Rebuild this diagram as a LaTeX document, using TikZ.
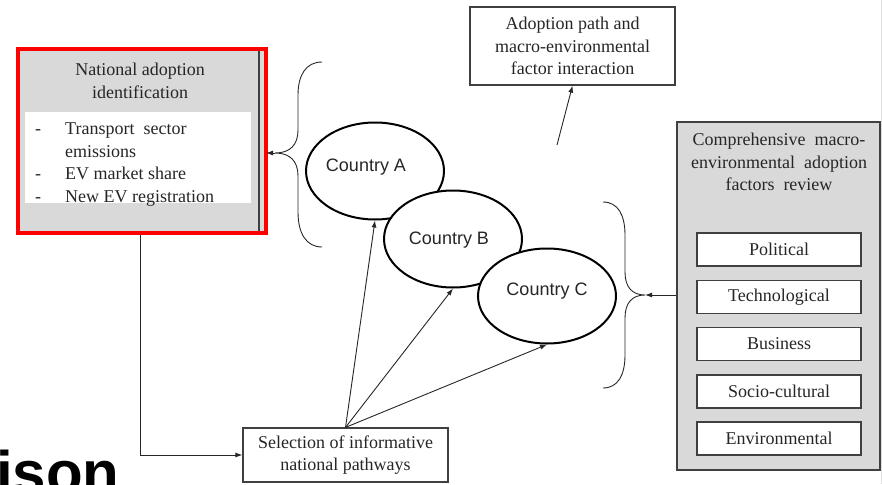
\documentclass[tikz,border=0pt]{standalone}
\usepackage{fontspec}
\setmainfont{Liberation Serif}
\newfontfamily\arialf{Liberation Sans}
\usetikzlibrary{arrows.meta,shapes.geometric}
\definecolor{boxgray}{HTML}{D9D9D9}
\definecolor{edgec}{HTML}{404040}
\definecolor{txtc}{HTML}{262626}
\begin{document}
\begin{tikzpicture}[x=1pt,y=-1pt,
  tx/.style={font=\fontsize{18}{22.5}\selectfont, align=center, inner sep=0, text=txtc},
  lt/.style={font=\fontsize{18}{22.5}\selectfont, anchor=base west, inner sep=0, text=txtc},
  plainbox/.style={draw=edgec, line width=1.2pt, fill=white, inner sep=0, font=\fontsize{18}{22.5}\selectfont, align=center, text=txtc},
  country/.style={ellipse, draw=black, line width=2pt, fill=white, inner sep=0, minimum width=138, minimum height=97},
  ctext/.style={font=\arialf\fontsize{18}{22}\selectfont, text=txtc},
  arr/.style={-{Latex[length=7pt,width=5pt]}, line width=0.9pt, draw=txtc},
  bracec/.style={line width=0.9pt, draw=txtc}
]
\useasboundingbox (0,0) rectangle (882,484);
\clip (0,0) rectangle (882,484);

% --- left red-framed box
\fill[boxgray] (20,50) rectangle (264,232);
\draw[edgec, line width=1.5pt] (259,50) -- (259,232);
\fill[white] (25,112) rectangle (251,203);
\node[tx] (redtitle) at (140,81) {National adoption\\identification};
\node[lt] (d1) at (35,134) {-};
\node[lt] (t1) at (65,134) {Transport\ \ sector};
\node[lt] (t1b) at (65,157) {emissions};
\node[lt] (d2) at (35,179) {-};
\node[lt] (t2) at (65,179) {EV market share};
\node[lt] (d3) at (35,202) {-};
\node[lt] (t3) at (65,202) {New EV registration};
\node[draw=red, line width=4pt, minimum width=248, minimum height=184, inner sep=0] (red) at (142,141) {};

% --- adoption path box
\node[plainbox, minimum width=205, minimum height=78] (adopt) at (572.5,46)
  {Adoption path and\\macro-environmental\\factor interaction};

% --- selection box
\node[plainbox, minimum width=205, minimum height=54] (sel) at (345.5,455)
  {Selection of informative\\national pathways};

% --- right review box
\node[draw=edgec, fill=boxgray, line width=1.2pt, minimum width=203, minimum height=348, inner sep=0] (review) at (778.5,296) {};
\node[tx] (revtitle) at (779,162) {Comprehensive\ \ macro-\\environmental\ \ adoption\\factors\ \ review};
\node[plainbox, minimum width=164, minimum height=33] (pol) at (779,249.5) {Political};
\node[plainbox, minimum width=164, minimum height=33] (tec) at (779,297) {Technological};
\node[plainbox, minimum width=164, minimum height=33] (bus) at (779,344) {Business};
\node[plainbox, minimum width=164, minimum height=33] (soc) at (779,391.5) {Socio-cultural};
\node[plainbox, minimum width=164, minimum height=33] (env) at (779,438.5) {Environmental};

% --- countries
\node[country, label={[ctext, xshift=-9pt, yshift=4pt]center:Country A}] (A) at (375,171) {};
\node[country, label={[ctext, xshift=-4pt, yshift=-1pt]center:Country B}] (B) at (453,239) {};
\node[country, minimum height=95, label={[ctext, xshift=0pt, yshift=5pt]center:Country C}] (C) at (547,296) {};

% --- braces
\draw[bracec] (322,62) .. controls (306,62) and (298,75) .. (298,95) -- (298,130)
  .. controls (298,145) and (290,153) .. (275,153)
  .. controls (290,153) and (298,161) .. (298,176) -- (298,212)
  .. controls (298,233) and (306,247) .. (322,247);
\coordinate (lb) at (275,153);
\draw[bracec] (603,202) .. controls (618,202) and (625,215) .. (625,235) -- (625,272)
  .. controls (625,287) and (632,295) .. (645,295)
  .. controls (632,295) and (625,303) .. (625,318) -- (625,355)
  .. controls (625,375) and (618,388) .. (603,388);
\coordinate (rb) at (645,295);

% --- connectors
\draw[arr, shorten >=-2pt] (lb) -- (red.east |- lb);
\draw[arr] (review.west |- rb) -- (rb);
\coordinate (adf) at (557,145);
\draw[arr] (adf) -- (adopt.south);
\draw[arr] ([xshift=-2pt]red.south) |- (sel.west);
\draw[arr] (sel.north) -- (A.south);
\draw[arr] (sel.north) -- (B.south);
\draw[arr] (sel.north) -- (C.south);

% --- cut-off heading text
\node[anchor=base west, inner sep=0, font=\arialf\bfseries\fontsize{60}{60}\selectfont, text=black] (ison) at (-4,493) {ison};

% faint right edge
\draw[gray!25, line width=1pt] (881.5,0) -- (881.5,484);
\end{tikzpicture}
\end{document}
